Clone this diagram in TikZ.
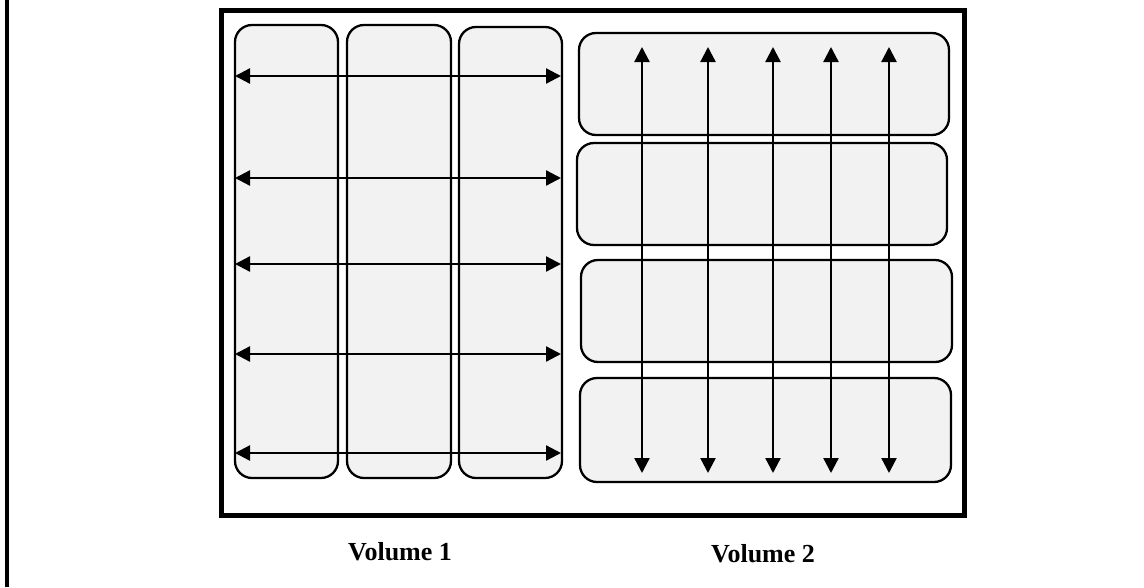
\documentclass[tikz,border=0pt]{standalone}
\usepackage{fontspec}
\setmainfont{Liberation Serif}
\usetikzlibrary{arrows.meta}
\begin{document}
\begin{tikzpicture}[x=1pt,y=-1pt,
  cell/.style={draw=black, line width=2.3pt, fill=cellgray, rounded corners=17pt,
    inner sep=0pt, outer sep=0pt},
  flow/.style={line width=2.3pt, {Triangle[length=15pt,width=15pt]}-{Triangle[length=15pt,width=15pt]}},
  caption/.style={font=\bfseries\fontsize{26}{30}\selectfont, anchor=base, inner sep=0pt}]
\definecolor{cellgray}{RGB}{242,242,242}
\useasboundingbox (0,0) rectangle (1144,587);

% page rule on the left
\draw[line width=4pt] (7,0) -- (7,587);

% outer container
\draw[line width=5pt] (221,10) rectangle (964,515);

% Volume 1: three vertical slabs
\node[cell, minimum width=103pt, minimum height=453pt] (L1) at (286.5,251.5) {};
\node[cell, minimum width=104pt, minimum height=453pt] (L2) at (399,251.5) {};
\node[cell, minimum width=103pt, minimum height=451pt] (L3) at (510.5,252.5) {};

% Volume 2: four horizontal slabs
\node[cell, minimum width=370pt, minimum height=102pt] (R1) at (764,84) {};
\node[cell, minimum width=370pt, minimum height=102pt] (R2) at (762,194) {};
\node[cell, minimum width=371pt, minimum height=102pt] (R3) at (766.5,311) {};
\node[cell, minimum width=371pt, minimum height=104pt] (R4) at (765.5,430) {};

% horizontal flows across Volume 1
\foreach \i/\y in {1/76,2/178,3/264,4/354,5/453} {
  \coordinate (hw\i) at (235,\y);
  \coordinate (he\i) at (561,\y);
  \draw[flow] (hw\i) -- (he\i);
}

% vertical flows across Volume 2
\foreach \i/\x in {1/642,2/708,3/773,4/831,5/889} {
  \coordinate (vn\i) at (\x,47);
  \coordinate (vs\i) at (\x,473);
  \draw[flow] (vs\i) -- (vn\i);
}

% captions
\node[caption] (cap1) at (400,560) {Volume 1};
\node[caption] (cap2) at (763,562) {Volume 2};
\end{tikzpicture}
\end{document}
